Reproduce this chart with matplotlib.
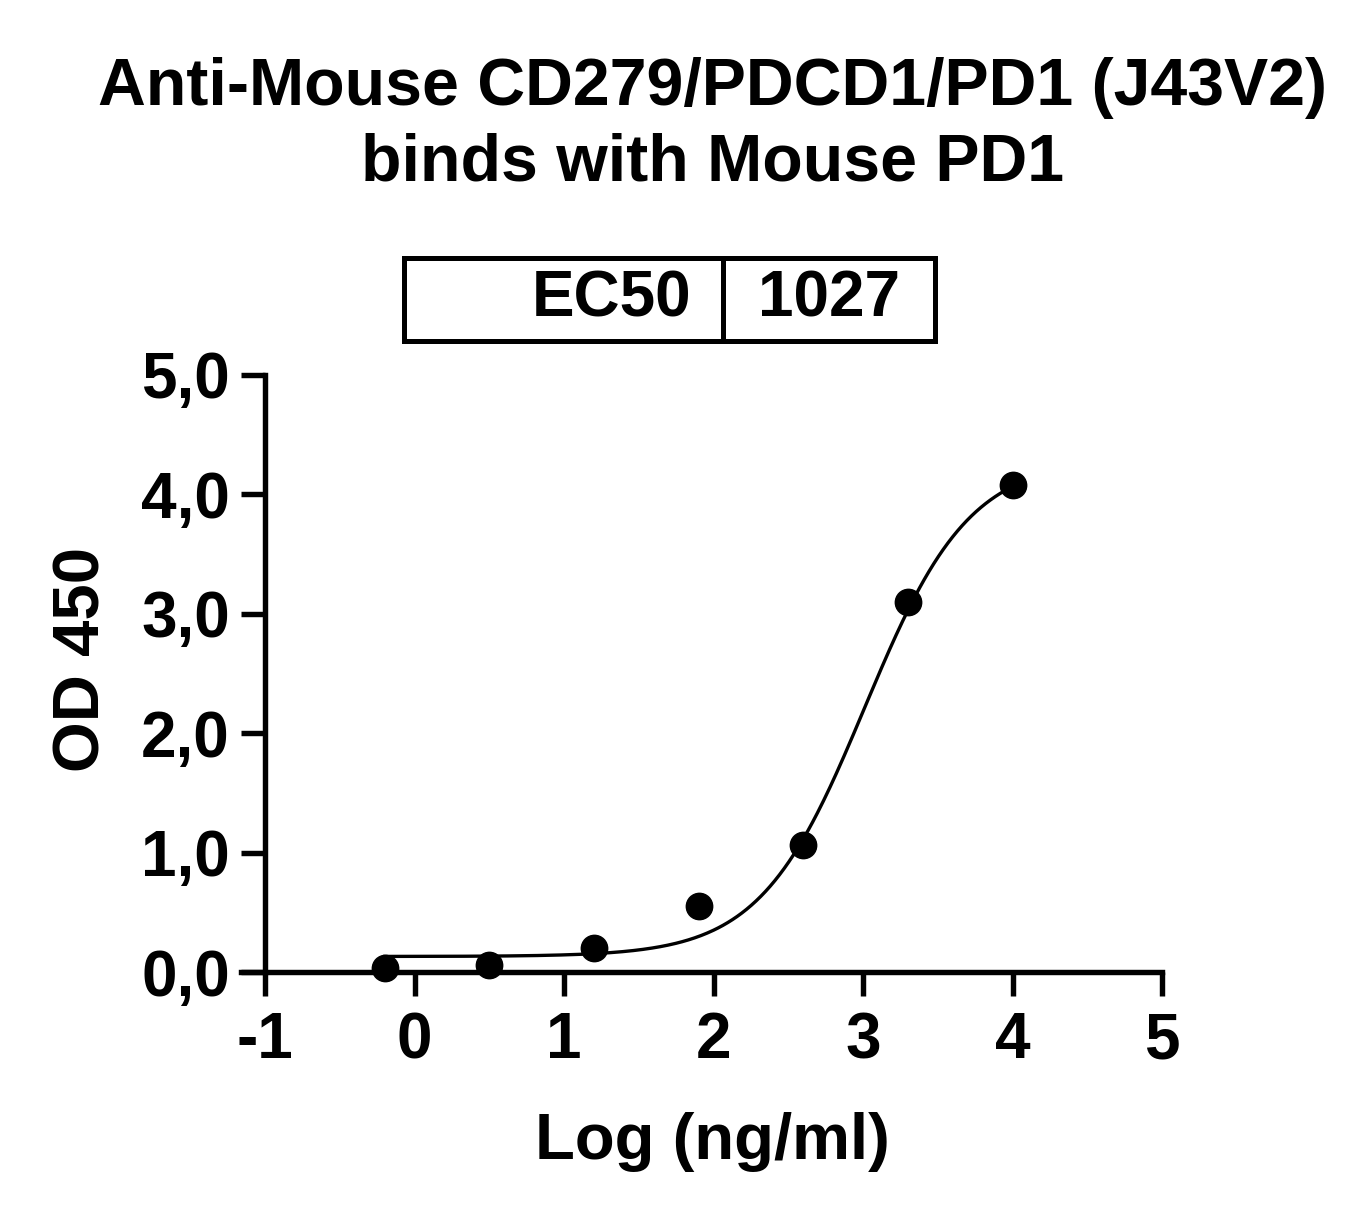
import numpy as np
import matplotlib
matplotlib.use("Agg")
import matplotlib.pyplot as plt

plt.rcParams['font.family'] = ['Liberation Sans', 'DejaVu Sans']
plt.rcParams['font.weight'] = 'bold'

# ---- data ----
log_conc = [-0.2, 0.5, 1.2, 1.9, 2.6, 3.3, 4.0]
od450 = [0.03, 0.06, 0.20, 0.55, 1.06, 3.10, 4.08]

fit_bottom = 0.13
fit_top = 4.30
ec50 = 1027
fit_hill = 1.24

xticks = [-1, 0, 1, 2, 3, 4, 5]
yticks = [0, 1, 2, 3, 4, 5]
yticklabels = ['0,0', '1,0', '2,0', '3,0', '4,0', '5,0']

title = "Anti-Mouse CD279/PDCD1/PD1 (J43V2)\nbinds with Mouse PD1"
xlabel = "Log (ng/ml)"
ylabel = "OD 450"
table_label = "EC50"
table_value = str(ec50)

W, H = 1371, 1220
fig = plt.figure(figsize=(W / 100, H / 100), dpi=100)

def fx(px):
    return px / W

def fy(py):
    return 1 - py / H

tick_len_px = 24
ax_left_px, ax_right_px = 265 - tick_len_px, 1162
ax_top_px, ax_bot_px = 375, 972
ax = fig.add_axes([fx(ax_left_px), fy(ax_bot_px),
                   (ax_right_px - ax_left_px) / W, (ax_bot_px - ax_top_px) / H])

unit_px = (1162 - 265) / 6.0
ax.set_xlim(-1 - tick_len_px / unit_px, 5)
ax.set_ylim(0, 5)

LW = 3.9

# fitted curve
xs = np.linspace(min(log_conc), max(log_conc), 400)
ys = fit_bottom + (fit_top - fit_bottom) / (1 + 10 ** ((np.log10(ec50) - xs) * fit_hill))
ax.plot(xs, ys, color='black', lw=2.4, clip_on=False, zorder=2)
ax.plot(log_conc, od450, 'o', color='black', markersize=19, clip_on=False, zorder=3)

for s in ['top', 'right']:
    ax.spines[s].set_visible(False)
ax.spines['left'].set_position(('data', -1))
ax.spines['left'].set_linewidth(LW)
ax.spines['bottom'].set_linewidth(LW)
ax.spines['left'].set_capstyle('projecting')
ax.spines['bottom'].set_capstyle('projecting')

ax.set_xticks(xticks)
ax.set_xticklabels([str(t) for t in xticks])
ax.set_yticks(yticks)
ax.set_yticklabels(yticklabels)
ax.tick_params(axis='both', direction='out', length=tick_len_px * 0.72, width=LW,
               labelsize=46, color='black')
ax.tick_params(axis='x', pad=11)
ax.tick_params(axis='y', pad=8)
for lab in ax.get_xticklabels() + ax.get_yticklabels():
    lab.set_fontweight('bold')

# axis labels
fig.text(fx(712), fy(1142), xlabel, ha='center', va='center', fontsize=47, fontweight='bold')
fig.text(fx(83), fy(660), ylabel, ha='center', va='center', rotation=90, fontsize=47, fontweight='bold')

# title
fig.text(fx(713), fy(126), title, ha='center', va='center', fontsize=47.7, fontweight='bold',
         linespacing=1.28, multialignment='center')

# EC50 table
tx0, tx1, tdiv, ty0, ty1 = 404, 935, 723, 258, 341
tax = fig.add_axes([fx(tx0), fy(ty1), (tx1 - tx0) / W, (ty1 - ty0) / H])
tax.axis('off')
tbl = tax.table(cellText=[[table_label, table_value]],
                colWidths=[(tdiv - tx0) / (tx1 - tx0), (tx1 - tdiv) / (tx1 - tx0)],
                cellLoc='center', bbox=[0, 0, 1, 1])
tbl.auto_set_font_size(False)
tbl.set_fontsize(46)
for (r, c), cell in tbl.get_celld().items():
    cell.set_linewidth(3.6)
    cell.set_edgecolor('black')
    cell.get_text().set_fontweight('bold')
    if c == 0:
        cell._loc = 'right'
        cell.get_text().set_ha('right')
        cell.PAD = 0.1

fig.savefig("out.png", dpi=100)
